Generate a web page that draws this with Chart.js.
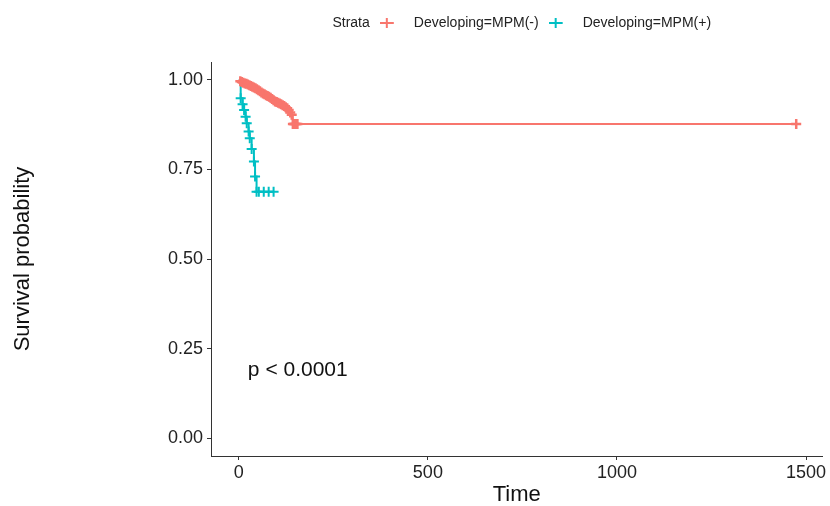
<!DOCTYPE html>
<html>
<head>
<meta charset="utf-8">
<script src="https://cdn.jsdelivr.net/npm/chart.js@4/dist/chart.umd.min.js"></script>
<style>
  html, body { margin: 0; padding: 0; background: #fff; }
  #wrap { width: 830px; height: 506px; }
</style>
</head>
<body>
<div id="wrap"><canvas id="km" width="830" height="506"></canvas></div>
<script>
// Kaplan-Meier curves
const negTimes = [0, 4, 8, 12, 16, 20, 24, 28, 32, 36, 40, 44, 48, 52, 56, 60, 64, 68, 72, 76, 80,
  84, 88, 92, 96, 100, 104, 108, 112, 116, 120, 124, 128, 132, 136, 140, 143, 146, 149, 152, 155, 1474];
const negSurv = [1.000, 0.996, 0.994, 0.992, 0.990, 0.989, 0.987, 0.985, 0.983, 0.981, 0.979, 0.977,
  0.974, 0.971, 0.968, 0.965, 0.962, 0.960, 0.957, 0.955, 0.953, 0.950, 0.947, 0.943, 0.940, 0.938,
  0.936, 0.934, 0.932, 0.929, 0.927, 0.924, 0.921, 0.916, 0.909, 0.903, 0.877, 0.877, 0.877, 0.877,
  0.877, 0.877];
const posTimes = [0, 5, 10, 14, 18, 21, 26, 29, 34, 40, 43, 47, 53, 66, 79, 92];
const posSurv = [1.000, 0.949, 0.932, 0.916, 0.897, 0.879, 0.856, 0.837, 0.807, 0.772, 0.730, 0.688,
  0.688, 0.688, 0.688, 0.688];

const strataLabels = ['Developing=MPM(-)', 'Developing=MPM(+)'];
const strataColors = ['#F8766D', '#00BFC4'];
const xTicks = [0, 500, 1000, 1500];
const yTicks = [0, 0.25, 0.5, 0.75, 1];
const pText = 'p < 0.0001';
const pPos = { x: 24, y: 0.19 };

const FONT = '"Liberation Sans", Arial, sans-serif';
const toPoints = (ts, ss) => ts.map((t, i) => ({ x: t, y: ss[i] }));

// legend key: a cross at the left of a wider blank box
function keyImage(color) {
  const c = document.createElement('canvas');
  c.width = 27; c.height = 14;
  const g = c.getContext('2d');
  if (color) {
    g.strokeStyle = color;
    g.lineWidth = 2;
    g.beginPath();
    g.moveTo(0, 7); g.lineTo(14, 7);
    g.moveTo(7, 2); g.lineTo(7, 12);
    g.stroke();
  }
  return c;
}

const pvalPlugin = {
  id: 'pval',
  afterDatasetsDraw(chart) {
    const { ctx, scales } = chart;
    ctx.save();
    ctx.font = '21px ' + FONT;
    ctx.fillStyle = '#111';
    ctx.textBaseline = 'middle';
    ctx.fillText(pText, scales.x.getPixelForValue(pPos.x), scales.y.getPixelForValue(pPos.y));
    ctx.restore();
  }
};

const legendShift = {
  id: 'legendShift',
  afterLayout(chart) {
    const l = chart.legend;
    l.top -= 22; l.bottom -= 22;
    l.left -= 12; l.right -= 12;
  }
};

const series = [toPoints(negTimes, negSurv), toPoints(posTimes, posSurv)];

new Chart(document.getElementById('km'), {
  type: 'line',
  data: {
    datasets: series.map((pts, i) => ({
      label: strataLabels[i],
      data: pts,
      stepped: true,
      borderColor: strataColors[i],
      backgroundColor: strataColors[i],
      borderWidth: 2,
      pointStyle: 'cross',
      pointRadius: (c) => c.dataIndex === 0 ? 0 : 5,
      pointBorderWidth: i === 0 ? 2.5 : 2,
      pointHoverRadius: 0,
      fill: false
    }))
  },
  options: {
    responsive: false,
    animation: false,
    layout: { padding: { top: 28, right: 5, bottom: 0, left: 0 } },
    plugins: {
      tooltip: { enabled: false },
      legend: {
        position: 'top',
        fullSize: false,
        labels: {
          usePointStyle: true,
          pointStyleWidth: 27,
          boxHeight: 14,
          padding: 10,
          color: '#222',
          font: { family: FONT, size: 14 },
          generateLabels: () => [
            { text: 'Strata', pointStyle: keyImage(null), fontColor: '#222', lineWidth: 0, hidden: false },
            ...strataLabels.map((t, i) => ({
              text: t, pointStyle: keyImage(strataColors[i]), fontColor: '#222',
              lineWidth: 0, hidden: false, datasetIndex: i
            }))
          ]
        }
      }
    },
    scales: {
      x: {
        type: 'linear',
        min: -73.5,
        max: 1543.5,
        afterBuildTicks: (s) => { s.ticks = xTicks.map(v => ({ value: v })); },
        afterFit: (s) => { s.height = 50; },
        grid: { drawOnChartArea: false, drawTicks: true, tickLength: 4, color: '#333' },
        border: { display: true, color: '#333', width: 1 },
        ticks: {
          color: '#222', padding: 2,
          callback: (v) => String(v),
          font: { family: FONT, size: 18 }
        },
        title: {
          display: true, text: 'Time', color: '#111',
          font: { family: FONT, size: 22, lineHeight: 1 },
          padding: { top: 0, bottom: 0 }
        }
      },
      y: {
        type: 'linear',
        min: -0.05,
        max: 1.05,
        afterBuildTicks: (s) => { s.ticks = yTicks.map(v => ({ value: v })); },
        afterFit: (s) => { s.width = 211; },
        grid: { drawOnChartArea: false, drawTicks: true, tickLength: 4, color: '#333' },
        border: { display: true, color: '#333', width: 1 },
        ticks: {
          color: '#222', padding: 4,
          callback: (v) => Number(v).toFixed(2),
          font: { family: FONT, size: 18 }
        },
        title: {
          display: true, text: 'Survival probability', color: '#111',
          font: { family: FONT, size: 22, lineHeight: 1 },
          padding: { top: 12, bottom: 0 }
        }
      }
    }
  },
  plugins: [pvalPlugin, legendShift]
});
</script>
</body>
</html>
